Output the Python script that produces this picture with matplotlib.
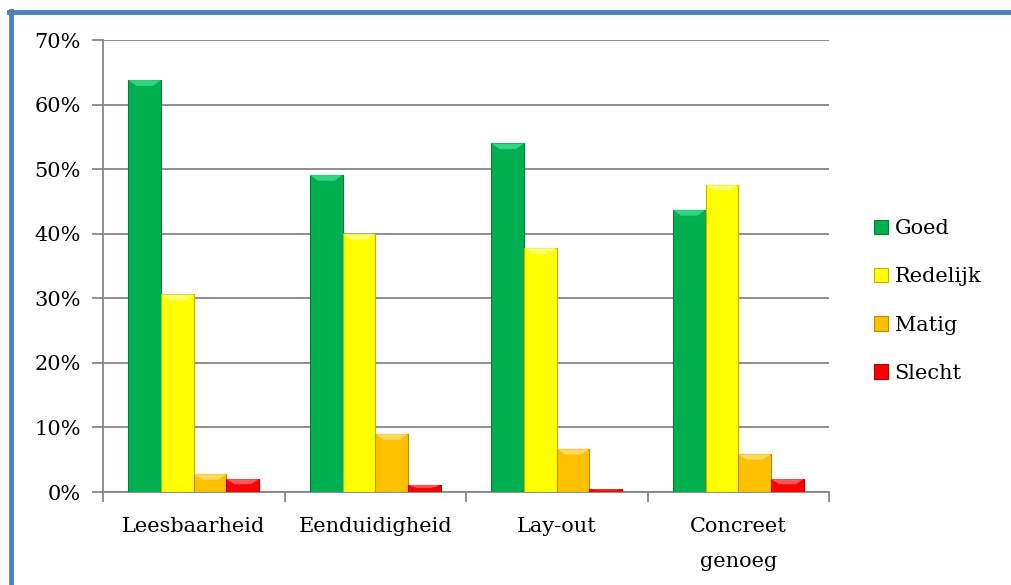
import matplotlib
matplotlib.use("Agg")
import matplotlib.pyplot as plt
from matplotlib.patches import Rectangle
from matplotlib.lines import Line2D
import numpy as np

categories = ["Leesbaarheid", "Eenduidigheid", "Lay-out", "Concreet\ngenoeg"]
series_names = ["Goed", "Redelijk", "Matig", "Slecht"]
goed = [63.8, 49.1, 54.0, 43.7]
redelijk = [30.6, 40.0, 37.8, 47.6]
matig = [2.8, 9.0, 6.7, 5.9]
slecht = [2.0, 1.1, 0.4, 2.0]
yticks = [0, 10, 20, 30, 40, 50, 60, 70]
ytick_labels = ["0%", "10%", "20%", "30%", "40%", "50%", "60%", "70%"]

colors = ["#00B050", "#FFFF00", "#FFC000", "#FF0000"]
edges = ["#0A7A3A", "#B8B800", "#B88A00", "#B00000"]
tops = ["#3FE08A", "#FFFF80", "#FFE070", "#FF7070"]

plt.rcParams['font.family'] = ['DejaVu Serif']

fig = plt.figure(figsize=(10.11, 5.85), dpi=100)
W, H = 1011, 585
ax = fig.add_axes([103 / W, 1 - 492 / H, (829 - 103) / W, (492 - 40) / H])

data = [goed, redelijk, matig, slecht]
x = np.arange(len(categories))
bw = 0.18
for i, (vals, c, e, t) in enumerate(zip(data, colors, edges, tops)):
    pos = x - 1.5 * bw + i * bw
    ax.bar(pos, vals, width=bw, color=c, edgecolor=e, linewidth=0.8, zorder=3)
    # bevel highlight at the top of each bar
    for p, v in zip(pos, vals):
        h = min(0.9, v * 0.4)
        ax.add_patch(plt.Polygon([[p - bw / 2, v], [p + bw / 2, v],
                                  [p + bw / 4, v - h], [p - bw / 4, v - h]],
                                 closed=True, facecolor=t, edgecolor='none',
                                 alpha=0.8, zorder=4))

ax.set_xlim(-0.5, len(categories) - 0.5)
ax.set_ylim(0, 70)
ax.set_yticks(yticks)
ax.set_yticklabels(ytick_labels, fontsize=15)
ax.yaxis.grid(True, color="#868686", linewidth=1.3, zorder=0)
ax.set_axisbelow(True)

ax.set_xticks(np.arange(-0.5, len(categories), 1.0), minor=False)
ax.set_xticklabels([])
ax.set_xticks(x, minor=True)
ax.set_xticklabels(categories, minor=True, fontsize=15, linespacing=2.05)
ax.tick_params(axis='x', which='minor', length=0, pad=18)
ax.tick_params(axis='x', which='major', length=7, color="#868686", width=1.3)
ax.tick_params(axis='y', length=8, color="#868686", width=1.3, pad=8)

for s in ["top", "right"]:
    ax.spines[s].set_visible(False)
for s in ["left", "bottom"]:
    ax.spines[s].set_color("#868686")
    ax.spines[s].set_linewidth(1.3)

handles = [Rectangle((0, 0), 1, 1, facecolor=c, edgecolor=e, linewidth=0.8)
           for c, e in zip(colors, edges)]
leg = fig.legend(handles, series_names, loc='center left',
                 bbox_to_anchor=(855 / W, 1 - 301 / H), frameon=False,
                 fontsize=15, handlelength=0.7, handleheight=0.7,
                 handletextpad=0.3, labelspacing=1.4)

# blue frame
fig.add_artist(Line2D([11 / W, 11 / W], [0, 1 - 11 / H], transform=fig.transFigure,
                      color="#4F81BD", linewidth=3.5))
fig.add_artist(Line2D([9 / W, 1], [1 - 11.5 / H, 1 - 11.5 / H], transform=fig.transFigure,
                      color="#4F81BD", linewidth=3.5))

fig.savefig("out.png", dpi=100)
